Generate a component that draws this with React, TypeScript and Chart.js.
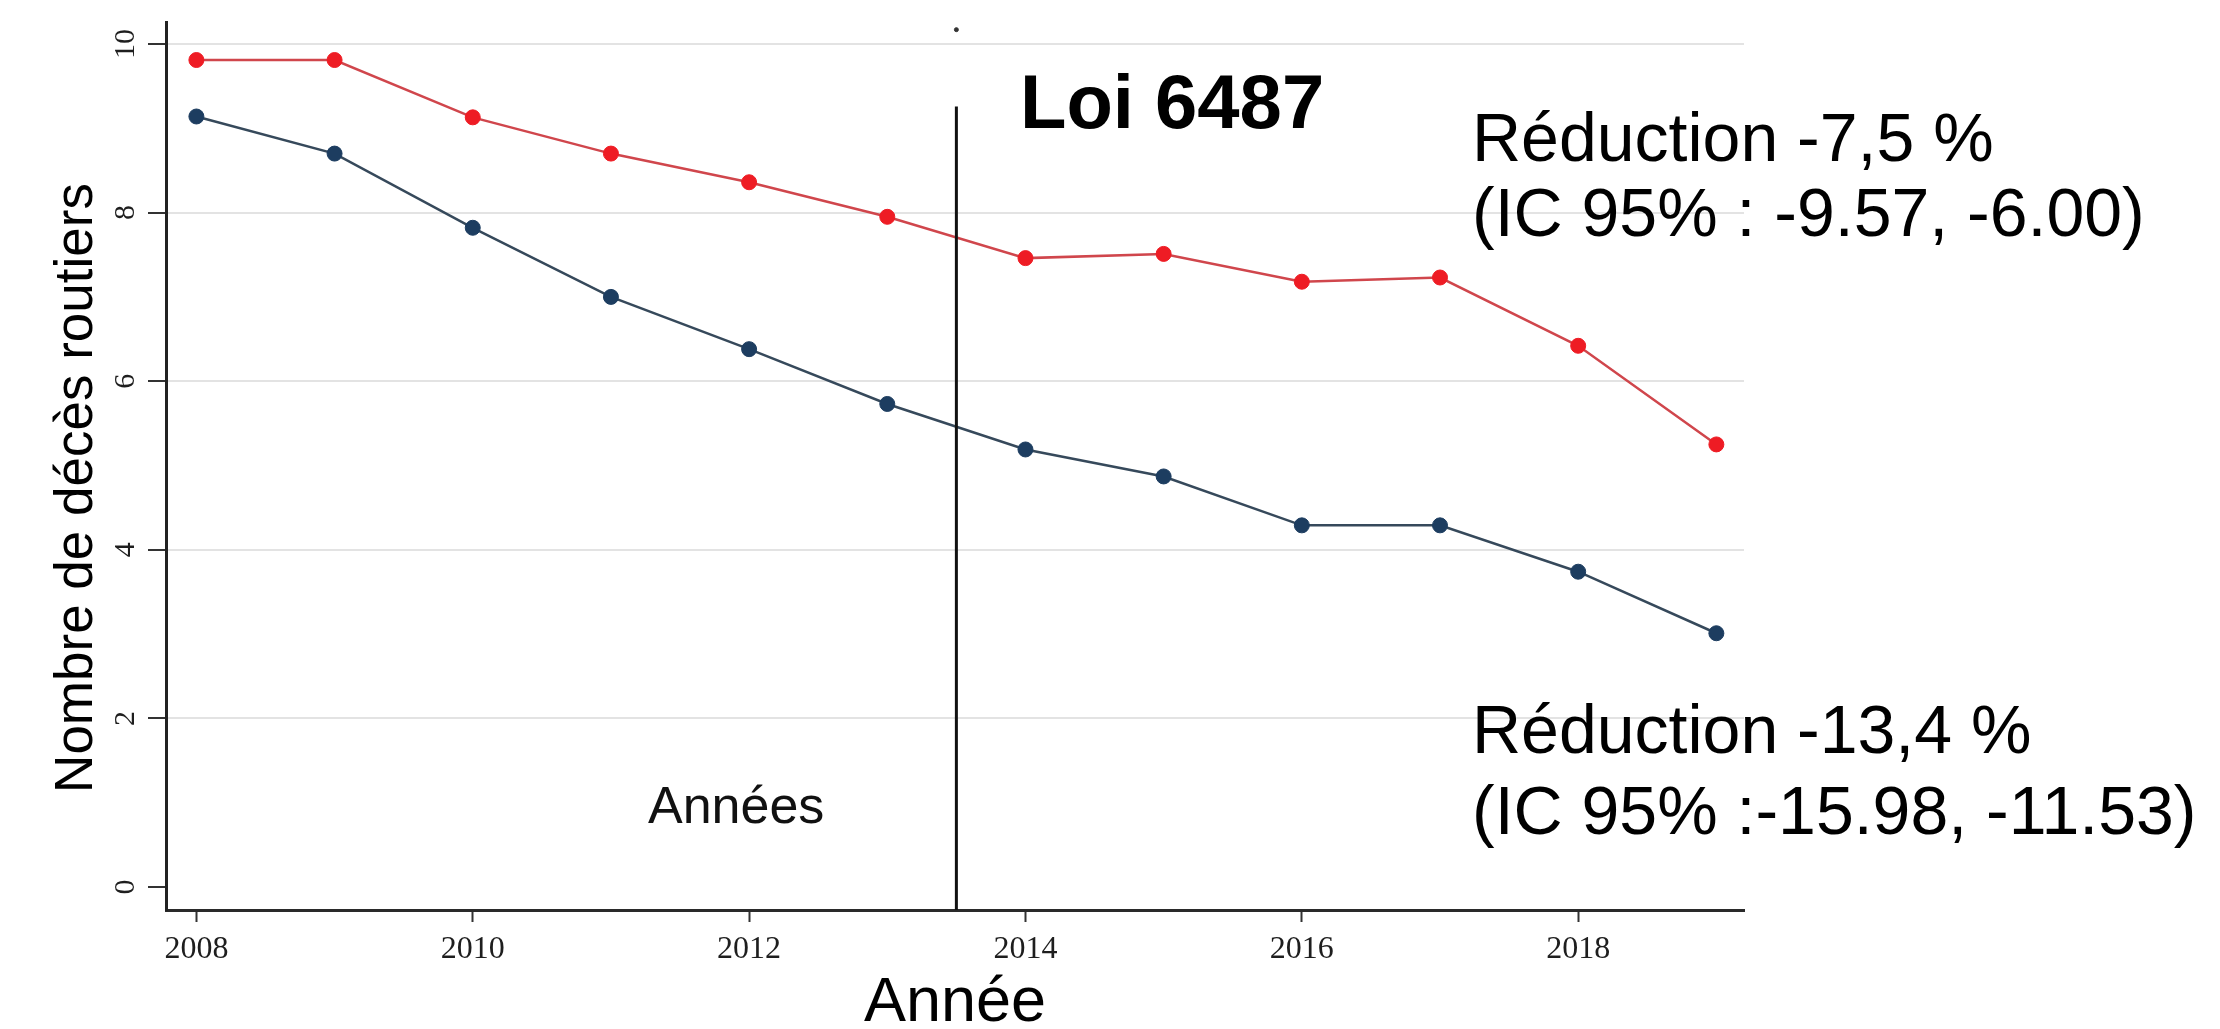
import React, { useEffect, useRef } from "react";
import { Chart, registerables } from "chart.js";

Chart.register(...registerables);

// ---- Data ----
const YEARS = [2008, 2009, 2010, 2011, 2012, 2013, 2014, 2015, 2016, 2017, 2018, 2019];
const SERIES_RED = [9.81, 9.81, 9.13, 8.7, 8.36, 7.95, 7.46, 7.51, 7.18, 7.23, 6.42, 5.25];
const SERIES_BLUE = [9.14, 8.7, 7.82, 7.0, 6.38, 5.73, 5.19, 4.87, 4.29, 4.29, 3.74, 3.01];
const X_TICKS = [2008, 2010, 2012, 2014, 2016, 2018];
const Y_TICKS = [0, 2, 4, 6, 8, 10];
const X_RANGE = [2007.78, 2019.2];
const Y_RANGE = [-0.273, 10.261];
const LAW_YEAR = 2013.5;
const LAW_LINE_VALUES = [-0.273, 9.26];
const LAW_DOT_VALUE = 10.17;

// ---- Text ----
const LAW_LABEL = "Loi 6487";
const NOTE_RED = ["Réduction -7,5 %", "(IC 95% : -9.57, -6.00)"];
const NOTE_BLUE = ["Réduction -13,4 %", "(IC 95% :-15.98, -11.53)"];
const PERIOD_LABEL = "Années";
const X_TITLE = "Année";
const Y_TITLE = "Nombre de décès routiers";

const SANS = "'Liberation Sans', Arial, Helvetica, sans-serif";
const SERIF = "'Liberation Serif', 'Times New Roman', Times, serif";

const textPlugin = {
  id: "textOverlay",
  afterDraw(chart: any) {
    const ctx: CanvasRenderingContext2D = chart.ctx;
    ctx.save();
    ctx.textAlign = "left";
    ctx.textBaseline = "alphabetic";
    ctx.fillStyle = "#000";
    ctx.font = `bold 76px ${SANS}`;
    ctx.fillText(LAW_LABEL, 1020, 128);

    ctx.font = `68px ${SANS}`;
    NOTE_RED.forEach((t, i) => ctx.fillText(t, 1472, 161 + i * 75));
    NOTE_BLUE.forEach((t, i) => ctx.fillText(t, 1472, 753 + i * 81));

    ctx.fillStyle = "#111";
    ctx.font = `52px ${SANS}`;
    ctx.fillText(PERIOD_LABEL, 648, 823);

    ctx.fillStyle = "#000";
    ctx.translate(92, 488);
    ctx.rotate(-Math.PI / 2);
    ctx.textAlign = "center";
    ctx.font = `53px ${SANS}`;
    ctx.fillText(Y_TITLE, 0, 0);
    ctx.restore();
  },
};

export default function App() {
  const ref = useRef<HTMLCanvasElement>(null);

  useEffect(() => {
    document.body.style.margin = "0";
    document.body.style.overflow = "hidden";
    document.body.style.background = "#fff";
    const canvas = ref.current;
    if (!canvas) return;

    const toPts = (vals: number[]) => YEARS.map((x, i) => ({ x, y: vals[i] }));

    const chart = new Chart(canvas, {
      type: "line",
      data: {
        datasets: [
          {
            label: "law",
            data: [
              { x: LAW_YEAR, y: LAW_LINE_VALUES[0] },
              { x: LAW_YEAR, y: LAW_LINE_VALUES[1] },
            ],
            borderColor: "#111",
            borderWidth: 3,
            pointRadius: 0,
            clip: false,
          } as any,
          {
            label: "lawdot",
            data: [{ x: LAW_YEAR, y: LAW_DOT_VALUE }],
            showLine: false,
            pointRadius: 2,
            pointBackgroundColor: "#333",
            pointBorderColor: "#333",
            clip: false,
          } as any,
          {
            label: "red",
            data: toPts(SERIES_RED),
            borderColor: "#d0464c",
            borderWidth: 2.5,
            pointRadius: 7.5,
            pointBackgroundColor: "#ee1c24",
            pointBorderColor: "#ee1c24",
            pointBorderWidth: 1,
            tension: 0,
            clip: false,
          } as any,
          {
            label: "blue",
            data: toPts(SERIES_BLUE),
            borderColor: "#36495b",
            borderWidth: 2.5,
            pointRadius: 7.5,
            pointBackgroundColor: "#1d3d60",
            pointBorderColor: "#1d3d60",
            pointBorderWidth: 1,
            tension: 0,
            clip: false,
          } as any,
        ],
      },
      options: {
        responsive: false,
        animation: false,
        devicePixelRatio: 1,
        events: [],
        layout: { padding: { top: 22, right: 476, left: 0, bottom: 0 } },
        plugins: {
          legend: { display: false },
          tooltip: { enabled: false },
          title: { display: false },
        },
        scales: {
          x: {
            type: "linear",
            min: X_RANGE[0],
            max: X_RANGE[1],
            afterBuildTicks: (s: any) => {
              s.ticks = X_TICKS.map((v) => ({ value: v }));
            },
            afterFit: (s: any) => {
              s.height = 119;
            },
            ticks: {
              autoSkip: false,
              maxRotation: 0,
              minRotation: 0,
              padding: 8,
              color: "#1e1e1e",
              font: { family: SERIF, size: 32 },
              callback: (v: any) => String(v),
            },
            grid: {
              drawOnChartArea: false,
              drawTicks: true,
              tickLength: 12,
              tickColor: "#333",
              tickWidth: 2,
            },
            border: { display: true, color: "#2a2a2a", width: 3 },
            title: {
              display: true,
              text: X_TITLE,
              color: "#000",
              font: { family: SANS, size: 63, lineHeight: 1 },
              padding: { top: 0, bottom: -6 },
            },
          },
          y: {
            type: "linear",
            min: Y_RANGE[0],
            max: Y_RANGE[1],
            afterBuildTicks: (s: any) => {
              s.ticks = Y_TICKS.map((v) => ({ value: v }));
            },
            afterFit: (s: any) => {
              s.width = 166;
            },
            ticks: {
              autoSkip: false,
              minRotation: 90,
              maxRotation: 90,
              crossAlign: "center",
              padding: 7,
              color: "#1e1e1e",
              font: { family: SERIF, size: 30, lineHeight: 1 },
              callback: (v: any) => String(v),
            },
            grid: {
              color: (c: any) => (c.tick && c.tick.value === 0 ? "rgba(0,0,0,0)" : "#e3e3e3"),
              lineWidth: 2,
              drawTicks: true,
              tickLength: 18,
              tickColor: "#333",
              tickWidth: 2,
            },
            border: { display: true, color: "#222", width: 3 },
          },
        },
      },
      plugins: [textPlugin],
    } as any);

    return () => chart.destroy();
  }, []);

  return (
    <canvas
      ref={ref}
      width={2220}
      height={1029}
      style={{ display: "block", width: 2220, height: 1029 }}
    />
  );
}
